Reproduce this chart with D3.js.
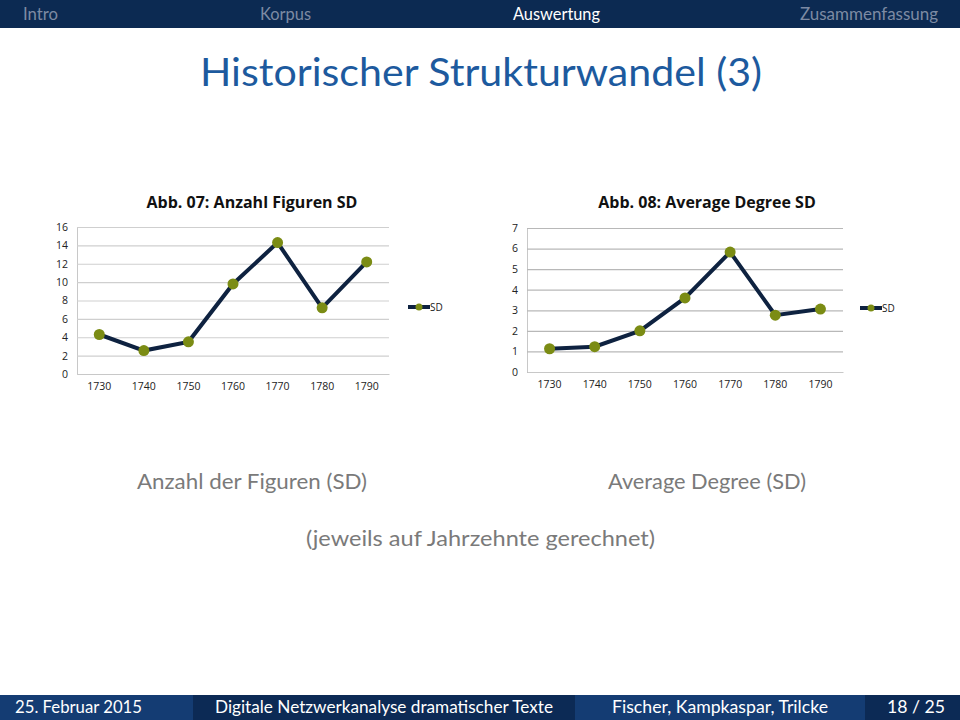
<!DOCTYPE html>
<html>
<head>
<meta charset="utf-8">
<script src="https://cdn.jsdelivr.net/npm/d3@7"></script>
<style>
  body { margin: 0; background: #fff; }
  svg { display: block; }
</style>
</head>
<body>
<div id="slide"></div>
<script>
// Data
const decades = ['1730', '1740', '1750', '1760', '1770', '1780', '1790'];
const anzahlFiguren = [4.3, 2.55, 3.5, 9.8, 14.3, 7.2, 12.2];
const averageDegree = [1.13, 1.23, 2.0, 3.6, 5.83, 2.76, 3.06];
const navItems = ['Intro', 'Korpus', 'Auswertung', 'Zusammenfassung'];
const footerItems = ['25. Februar 2015', 'Digitale Netzwerkanalyse dramatischer Texte', 'Fischer, Kampkaspar, Trilcke', '18 / 25'];

const width = 960, height = 720;
const slideFont = 'Lato, "DejaVu Sans", sans-serif';
const chartFont = '"Open Sans", "Liberation Sans", sans-serif';

const svg = d3.select('#slide').append('svg')
  .attr('width', width)
  .attr('height', height);

// Header bar
svg.append('rect').attr('x', 0).attr('y', 0).attr('width', width).attr('height', 28).attr('fill', '#0c2a52');
const navX = [23, 260, 513, 800];
const navW = [35, 51, 87, 138];
svg.selectAll('.nav').data(navItems).enter().append('text')
  .attr('x', (d, i) => navX[i])
  .attr('y', 20)
  .attr('font-family', slideFont)
  .attr('font-size', 16.5)
  .attr('textLength', (d, i) => navW[i])
  .attr('lengthAdjust', 'spacingAndGlyphs')
  .attr('fill', d => d === 'Auswertung' ? '#ffffff' : '#7d8aa3')
  .text(d => d);

// Title
svg.append('text')
  .attr('x', 200).attr('y', 86)
  .attr('font-family', slideFont)
  .attr('font-size', 38)
  .attr('textLength', 562)
  .attr('lengthAdjust', 'spacingAndGlyphs')
  .attr('fill', '#1d5a9e')
  .text('Historischer Strukturwandel (3)');

// Line chart
function drawChart(opts) {
  const g = svg.append('g');
  const x = d3.scaleBand().domain(decades).range([opts.left, opts.right]);
  const y = d3.scaleLinear().domain([0, opts.max]).range([opts.bottom, opts.top]);

  g.append('text')
    .attr('x', opts.titleX).attr('y', 208)
    .attr('text-anchor', 'middle')
    .attr('font-family', chartFont)
    .attr('font-weight', 'bold')
    .attr('font-size', 16)
    .attr('fill', '#111')
    .text(opts.title);

  // Gridlines
  const yAxis = d3.axisLeft(y).tickValues(d3.range(0, opts.max + 0.001, opts.step))
    .tickFormat(d3.format('d'))
    .tickSize(-(opts.right - opts.left)).tickPadding(9);
  const ya = g.append('g').attr('transform', `translate(${opts.left},0)`).call(yAxis);
  ya.select('.domain').attr('stroke', '#c8c8c8');
  ya.selectAll('.tick line').attr('stroke', opts.grid).attr('stroke-width', 1.2);
  ya.selectAll('.tick text').attr('font-family', chartFont).attr('font-size', 10.5).attr('fill', '#222');

  const xAxis = d3.axisBottom(x).tickSize(0).tickPadding(9);
  const xa = g.append('g').attr('transform', `translate(0,${opts.bottom})`).call(xAxis);
  xa.select('.domain').attr('stroke', '#c8c8c8');
  xa.selectAll('.tick text').attr('font-family', chartFont).attr('font-size', 10.5).attr('fill', '#222');

  const line = d3.line().x((d, i) => x(decades[i]) + x.bandwidth() / 2).y(d => y(d));
  g.append('path').datum(opts.values)
    .attr('d', line)
    .attr('fill', 'none')
    .attr('stroke', '#0e2240')
    .attr('stroke-width', 4)
    .attr('stroke-linejoin', 'miter');

  g.selectAll('.pt').data(opts.values).enter().append('circle')
    .attr('cx', (d, i) => x(decades[i]) + x.bandwidth() / 2)
    .attr('cy', d => y(d))
    .attr('r', 5.5)
    .attr('fill', '#7b8c14');

  // Legend
  const lg = g.append('g').attr('transform', `translate(${opts.legendX},${opts.legendY})`);
  lg.append('line').attr('x1', 0).attr('x2', 22).attr('y1', 0).attr('y2', 0)
    .attr('stroke', '#0e2240').attr('stroke-width', 4);
  lg.append('circle').attr('cx', 11).attr('cy', 0).attr('r', 3.5).attr('fill', '#7b8c14');
  lg.append('text').attr('x', 22).attr('y', 3.5)
    .attr('font-family', chartFont).attr('font-size', 10).attr('fill', '#222')
    .text('SD');
}

drawChart({
  title: 'Abb. 07: Anzahl Figuren SD', titleX: 252,
  values: anzahlFiguren, max: 16, step: 2,
  left: 77, right: 389, top: 227, bottom: 374,
  grid: '#cfcfcf', legendX: 408, legendY: 307
});

drawChart({
  title: 'Abb. 08: Average Degree SD', titleX: 707,
  values: averageDegree, max: 7, step: 1,
  left: 527, right: 843, top: 228, bottom: 372,
  grid: '#b8b8b8', legendX: 860, legendY: 308
});

// Captions
const captions = [
  { text: 'Anzahl der Figuren (SD)', x: 137, w: 230, y: 489 },
  { text: 'Average Degree (SD)', x: 608, w: 198, y: 489 },
  { text: '(jeweils auf Jahrzehnte gerechnet)', x: 306, w: 349, y: 546 }
];
svg.selectAll('.cap').data(captions).enter().append('text')
  .attr('x', d => d.x).attr('y', d => d.y)
  .attr('font-family', slideFont)
  .attr('font-size', 21)
  .attr('textLength', d => d.w)
  .attr('lengthAdjust', 'spacingAndGlyphs')
  .attr('fill', '#7a7a7a')
  .text(d => d.text);

// Footer
const footerSeg = [[0, 193], [193, 575], [575, 865], [865, 960]];
const footerFill = ['#143c73', '#0c2a55', '#143c73', '#0c2a55'];
const footerX = [15, 215, 612, 887];
const footerW = [127, 338, 216, 58];
svg.selectAll('.foot').data(footerSeg).enter().append('rect')
  .attr('x', d => d[0]).attr('y', 695)
  .attr('width', d => d[1] - d[0]).attr('height', 25)
  .attr('fill', (d, i) => footerFill[i]);
svg.selectAll('.foottext').data(footerItems).enter().append('text')
  .attr('x', (d, i) => footerX[i])
  .attr('y', 713)
  .attr('font-family', slideFont)
  .attr('font-size', 17)
  .attr('textLength', (d, i) => footerW[i])
  .attr('lengthAdjust', 'spacingAndGlyphs')
  .attr('fill', '#ffffff')
  .text(d => d);
</script>
</body>
</html>
